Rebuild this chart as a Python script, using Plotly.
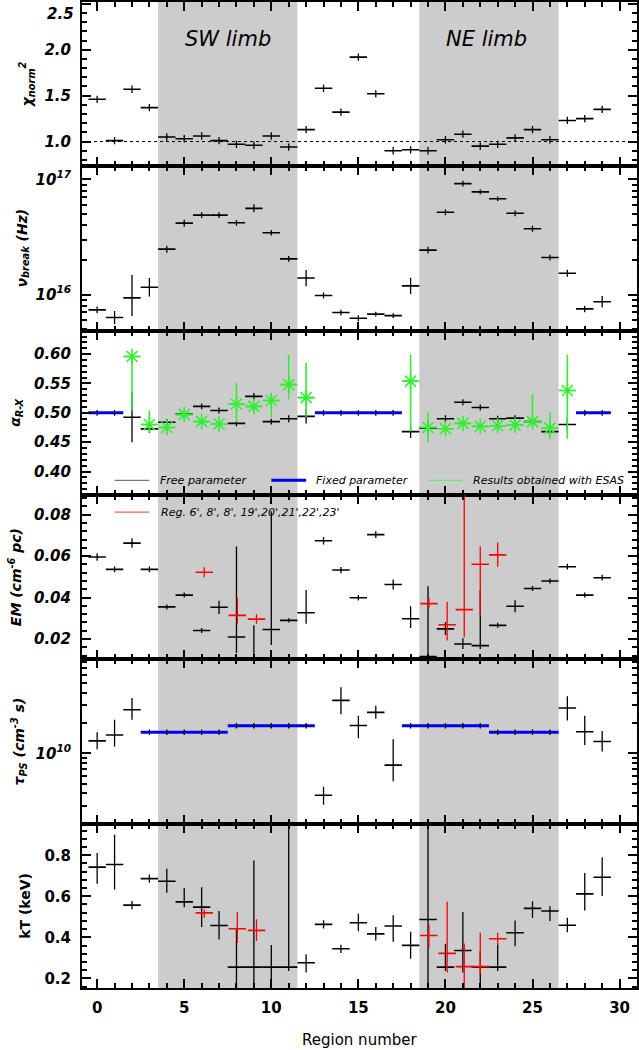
import plotly.graph_objects as go
from plotly.subplots import make_subplots

FONT = 'DejaVu Sans'

region = list(range(30))

# reduced chi^2
chi2 = [1.46, 1.01, 1.57, 1.37, 1.05, 1.03, 1.06, 1.01, 0.97, 0.96, 1.06, 0.94, 1.13, 1.58, 1.32,
        1.92, 1.52, 0.90, 0.91, 0.90, 1.02, 1.08, 0.95, 0.97, 1.04, 1.13, 1.02, 1.23, 1.25, 1.35]
chi2_err = 0.04
chi2_ticks = [1.0, 1.5, 2.0, 2.5]

# break frequency (Hz)
nu = [0.735e16, 0.631e16, 0.936e16, 1.156e16, 2.48e16, 4.17e16, 4.90e16, 4.90e16, 4.20e16, 5.61e16,
      3.44e16, 2.04e16, 1.39e16, 0.98e16, 0.697e16, 0.622e16, 0.675e16, 0.656e16, 1.19e16, 2.43e16,
      5.18e16, 9.2e16, 7.8e16, 6.8e16, 5.08e16, 3.73e16, 2.10e16, 1.53e16, 0.75e16, 0.865e16]
nu_lo = [0.686e16, 0.553e16, 0.652e16, 0.962e16, 2.31e16, 3.89e16, 4.62e16, 4.62e16, 3.96e16, 5.18e16,
         3.25e16, 1.93e16, 1.18e16, 0.925e16, 0.658e16, 0.587e16, 0.645e16, 0.626e16, 1.01e16, 2.27e16,
         4.89e16, 8.68e16, 7.45e16, 6.49e16, 4.80e16, 3.52e16, 1.98e16, 1.43e16, 0.70e16, 0.77e16]
nu_hi = [0.787e16, 0.720e16, 1.48e16, 1.39e16, 2.66e16, 4.47e16, 5.19e16, 5.19e16, 4.45e16, 6.08e16,
         3.64e16, 2.16e16, 1.63e16, 1.04e16, 0.738e16, 0.659e16, 0.707e16, 0.687e16, 1.40e16, 2.60e16,
         5.49e16, 9.75e16, 8.17e16, 7.12e16, 5.38e16, 3.95e16, 2.22e16, 1.64e16, 0.80e16, 0.97e16]

# radio-to-X-ray index
alpha_fixed_groups = [[0, 1], [13, 14, 15, 16, 17], [28, 29]]
alpha_fixed = [0.50, 0.50, 0.50]
alpha_x = [2, 3, 4, 5, 6, 7, 8, 9, 10, 11, 12, 18, 19, 20, 21, 22, 23, 24, 25, 26, 27]
alpha = [0.4926, 0.4727, 0.484, 0.498, 0.511, 0.504, 0.482, 0.528, 0.485, 0.490, 0.494,
         0.468, 0.474, 0.490, 0.518, 0.509, 0.490, 0.491, 0.485, 0.468, 0.480]
alpha_lo = [0.450, 0.466, 0.479, 0.493, 0.506, 0.499, 0.477, 0.522, 0.480, 0.484, 0.482,
            0.457, 0.463, 0.484, 0.513, 0.504, 0.485, 0.486, 0.480, 0.463, 0.469]
alpha_hi = [0.535, 0.479, 0.489, 0.503, 0.516, 0.509, 0.487, 0.534, 0.490, 0.496, 0.507,
            0.479, 0.485, 0.496, 0.523, 0.514, 0.495, 0.496, 0.490, 0.473, 0.491]
esas = [0.596, 0.480, 0.475, 0.497, 0.485, 0.481, 0.515, 0.511, 0.521, 0.548, 0.526,
        0.554, 0.475, 0.473, 0.482, 0.477, 0.478, 0.479, 0.485, 0.474, 0.538]
esas_lo = [0.504, 0.468, 0.465, 0.489, 0.482, 0.478, 0.484, 0.505, 0.493, 0.523, 0.493,
           0.468, 0.450, 0.469, 0.478, 0.473, 0.470, 0.471, 0.476, 0.455, 0.456]
esas_hi = [0.600, 0.504, 0.484, 0.505, 0.488, 0.484, 0.551, 0.517, 0.533, 0.599, 0.585,
           0.599, 0.500, 0.477, 0.486, 0.481, 0.486, 0.487, 0.532, 0.500, 0.599]

# emission measure
em = [0.0596, 0.0536, 0.0663, 0.0536, 0.0355, 0.0412, 0.0241, 0.0353, 0.0210, 0.0108,
      0.0246, 0.0290, 0.0327, 0.0674, 0.0533, 0.0399, 0.0704, 0.0463, 0.0298, 0.0116,
      0.0249, 0.0176, 0.0168, 0.0266, 0.0358, 0.0444, 0.0480, 0.0549, 0.0412, 0.0496]
em_lo = [0.0578, 0.0522, 0.0640, 0.0522, 0.0343, 0.0400, 0.0229, 0.0321, 0.0133, 0.0,
         0.0171, 0.0280, 0.0274, 0.0656, 0.0518, 0.0386, 0.0688, 0.0439, 0.0253, 0.0,
         0.0220, 0.0152, 0.0152, 0.0254, 0.0329, 0.0432, 0.0468, 0.0535, 0.0400, 0.0482]
em_hi = [0.0614, 0.0550, 0.0686, 0.0550, 0.0367, 0.0424, 0.0253, 0.0385, 0.0647, 0.0266,
         0.0817, 0.0300, 0.0436, 0.0692, 0.0548, 0.0412, 0.0720, 0.0487, 0.0358, 0.0455,
         0.0282, 0.0204, 0.0436, 0.0278, 0.0387, 0.0456, 0.0492, 0.0563, 0.0424, 0.0510]

red_x = [6.15, 8.05, 9.15, 19.05, 20.1, 21.08, 22.0, 23.0]
em_red = [0.0522, 0.0314, 0.0296, 0.0371, 0.0269, 0.0342, 0.0561, 0.0606]
em_red_lo = [0.0498, 0.0274, 0.0274, 0.0347, 0.0193, 0.0209, 0.0314, 0.0549]
em_red_hi = [0.0546, 0.0399, 0.0320, 0.0399, 0.0379, 0.1000, 0.0647, 0.0666]

# ionisation age
tau_fixed_groups = [[3, 4, 5, 6, 7], [8, 9, 10, 11, 12], [18, 19, 20, 21, 22], [23, 24, 25, 26]]
tau_fixed = [1.62e10, 1.88e10, 1.88e10, 1.62e10]
tau_x = [0, 1, 2, 13, 14, 15, 16, 17, 27, 28, 29]
tau = [1.33e10, 1.52e10, 2.71e10, 0.383e10, 3.36e10, 1.89e10, 2.55e10, 0.764e10, 2.82e10, 1.64e10, 1.31e10]
tau_lo = [1.10e10, 1.17e10, 2.15e10, 0.309e10, 2.45e10, 1.41e10, 2.20e10, 0.528e10, 2.12e10, 1.21e10, 1.04e10]
tau_hi = [1.62e10, 2.15e10, 3.55e10, 0.465e10, 4.53e10, 2.36e10, 2.97e10, 1.38e10, 3.69e10, 2.36e10, 1.67e10]

# temperature (keV)
kt = [0.742, 0.755, 0.557, 0.686, 0.673, 0.573, 0.547, 0.458, 0.255, 0.255, 0.255, 0.255, 0.276, 0.463, 0.344,
      0.471, 0.417, 0.455, 0.361, 0.487, 0.255, 0.336, 0.255, 0.255, 0.422, 0.541, 0.528, 0.459, 0.612, 0.693]
kt_lo = [0.661, 0.633, 0.537, 0.666, 0.617, 0.547, 0.450, 0.390, 0.0, 0.0, 0.0, 0.236, 0.228, 0.443, 0.324,
         0.430, 0.385, 0.378, 0.296, 0.0, 0.236, 0.228, 0.0, 0.236, 0.357, 0.495, 0.479, 0.425, 0.531, 0.601]
kt_hi = [0.811, 0.900, 0.577, 0.706, 0.734, 0.641, 0.644, 0.528, 0.447, 0.774, 0.362, 1.2, 0.317, 0.483, 0.364,
         0.515, 0.450, 0.508, 0.427, 1.2, 0.369, 0.524, 0.333, 0.365, 0.482, 0.576, 0.552, 0.495, 0.714, 0.790]
kt_red = [0.519, 0.442, 0.434, 0.409, 0.322, 0.257, 0.257, 0.393]
kt_red_lo = [0.495, 0.374, 0.382, 0.349, 0.228, 0.0, 0.223, 0.365]
kt_red_hi = [0.536, 0.524, 0.488, 0.463, 0.573, 0.370, 0.422, 0.422]

limbs = [(3.5, 11.5), (18.5, 26.5)]

BLUE = '#0000ee'
GREEN = '#33ee33'
RED = '#ff0000'

fig = make_subplots(rows=6, cols=1, shared_xaxes=True, vertical_spacing=0)


def crosses(row, x, y, lo=None, hi=None, err=None, color='black', xerr=0.5, vt=1.3):
    if err is not None:
        ey = dict(type='constant', value=err, width=0, thickness=vt, color=color)
    else:
        ey = dict(type='data', symmetric=False,
                  array=[h - v for h, v in zip(hi, y)],
                  arrayminus=[v - l for l, v in zip(lo, y)],
                  width=0, thickness=vt, color=color)
    ex = dict(type='constant', value=xerr, width=0, thickness=1.6, color=color)
    if xerr == 0:
        ex = None
    fig.add_trace(go.Scatter(x=x, y=y, mode='markers', marker=dict(size=1, color=color),
                             error_x=ex, error_y=ey, showlegend=False, hoverinfo='skip'),
                  row=row, col=1)


def fixed_line(row, groups, vals):
    xs, ys = [], []
    for g, v in zip(groups, vals):
        xs += [g[0] - 0.5, g[-1] + 0.5, None]
        ys += [v, v, None]
    fig.add_trace(go.Scatter(x=xs, y=ys, mode='lines', line=dict(color=BLUE, width=3),
                             showlegend=False, hoverinfo='skip'), row=row, col=1)


# panel 1
crosses(1, region, chi2, err=chi2_err)
# panel 2
crosses(2, region, nu, nu_lo, nu_hi)
# panel 3
fixed_line(3, alpha_fixed_groups, alpha_fixed)
fx = [x for g in alpha_fixed_groups for x in g]
fv = [v for g, v in zip(alpha_fixed_groups, alpha_fixed) for x in g]
crosses(3, fx, fv, err=0.005, xerr=0)
crosses(3, alpha_x, alpha, alpha_lo, alpha_hi)
fig.add_trace(go.Scatter(x=alpha_x, y=esas, mode='markers',
                         marker=dict(symbol='asterisk', size=13, color=GREEN, line=dict(color=GREEN, width=1.6)),
                         error_x=dict(type='constant', value=0.5, width=0, thickness=1.6, color=GREEN),
                         error_y=dict(type='data', symmetric=False,
                                      array=[h - v for h, v in zip(esas_hi, esas)],
                                      arrayminus=[v - l for l, v in zip(esas_lo, esas)],
                                      width=0, thickness=1.6, color=GREEN),
                         showlegend=False, hoverinfo='skip'), row=3, col=1)
# legend glyphs panel 3 / 4
for (x0, x1), col, w in [((1.0, 3.0), '#555555', 1), ((10.0, 12.0), BLUE, 3), ((19.0, 21.0), '#66ee66', 1.2)]:
    fig.add_trace(go.Scatter(x=[x0, x1], y=[0.385, 0.385], mode='lines', line=dict(color=col, width=w),
                             showlegend=False, hoverinfo='skip'), row=3, col=1)
fig.add_trace(go.Scatter(x=[1.0, 3.0], y=[0.0812, 0.0812], mode='lines', line=dict(color='#ee6655', width=1.3),
                         showlegend=False, hoverinfo='skip'), row=4, col=1)
# panel 4
crosses(4, region, em, em_lo, em_hi)
crosses(4, red_x, em_red, em_red_lo, em_red_hi, color=RED)
# panel 5
fixed_line(5, tau_fixed_groups, tau_fixed)
fx = [x for g in tau_fixed_groups for x in g]
fv = [v for g, v in zip(tau_fixed_groups, tau_fixed) for x in g]
crosses(5, fx, fv, [v * 0.94 for v in fv], [v * 1.065 for v in fv], xerr=0)
crosses(5, tau_x, tau, tau_lo, tau_hi)
# panel 6
crosses(6, region, kt, kt_lo, kt_hi)
crosses(6, red_x, kt_red, kt_red_lo, kt_red_hi, color=RED)

# shading
for r in range(1, 7):
    xr = 'x' if r == 1 else 'x%d' % r
    yr = 'y domain' if r == 1 else 'y%d domain' % r
    for a, b in limbs:
        fig.add_shape(type='rect', xref=xr, yref=yr, x0=a, x1=b, y0=0, y1=1,
                      fillcolor='#cccccc', line_width=0, layer='below')
fig.add_shape(type='line', xref='x domain', yref='y', x0=0, x1=1, y0=1.0, y1=1.0,
              line=dict(color='black', width=1, dash='dot'))

axis_common = dict(showline=True, linewidth=2, linecolor='black', mirror='allticks',
                   ticks='inside', ticklen=9, tickwidth=2, tickcolor='black',
                   showgrid=False, zeroline=False)
minor_common = dict(ticks='inside', ticklen=5, tickwidth=1.5, tickcolor='black', showgrid=False)
ital = dict(family=FONT, size=15, color='black', weight='bold', style='italic')
upright = dict(family=FONT, size=15, color='black', weight='bold')
ttl_ital = dict(family=FONT, size=14, color='black', weight='bold', style='italic')
ttl_up = dict(family=FONT, size=14, color='black', weight='bold')

for r in range(1, 7):
    fig.update_xaxes(range=[-0.87, 31.0], tick0=0, dtick=5, minor=dict(dtick=1, tick0=0, **minor_common),
                     tickfont=upright, ticklabelstandoff=5, row=r, col=1, **axis_common)

# top label of panel 1 sits at the clipped edge, so it is placed as text below
fig.update_yaxes(range=[0.73, 2.52], tickmode='array', tickvals=chi2_ticks,
                 ticktext=['%.1f' % t for t in chi2_ticks[:-1]] + [''],
                 minor=dict(dtick=0.1, tick0=0, **minor_common), tickfont=ital, row=1, col=1, **axis_common)
fig.add_annotation(text='%.1f' % chi2_ticks[-1], xref='paper', yref='paper', x=-6 / 555.0, y=1 - 12 / 988.0,
                   xanchor='right', yanchor='middle', showarrow=False, font=ital)
nu_minor = [k * 1e15 for k in range(5, 10)] + [k * 1e16 for k in range(2, 10)]
fig.update_yaxes(type='log', range=[15.686, 17.114], tickmode='array', tickvals=[1e16, 1e17],
                 ticktext=['10<sup>16</sup>', '10<sup>17</sup>'],
                 minor=dict(tickmode='array', tickvals=nu_minor, **minor_common),
                 tickfont=ital, row=2, col=1, **axis_common)
fig.update_yaxes(range=[0.36, 0.64], tick0=0, dtick=0.05, tickformat='.2f',
                 minor=dict(dtick=0.01, tick0=0, **minor_common), tickfont=ital, row=3, col=1, **axis_common)
fig.update_yaxes(range=[0.0102, 0.0895], tick0=0, dtick=0.02, tickformat='.2f',
                 minor=dict(dtick=0.004, tick0=0, **minor_common), tickfont=ital, row=4, col=1, **axis_common)
tau_minor = [k * 1e9 for k in range(2, 10)] + [k * 1e10 for k in range(2, 9)]
fig.update_yaxes(type='log', range=[9.301, 10.934], tickmode='array', tickvals=[1e10],
                 ticktext=['10<sup>10</sup>'],
                 minor=dict(tickmode='array', tickvals=tau_minor, **minor_common),
                 tickfont=ital, row=5, col=1, **axis_common)
fig.update_yaxes(range=[0.153, 0.954], tick0=0, dtick=0.2, tickformat='.1f',
                 minor=dict(dtick=0.04, tick0=0, **minor_common), tickfont=upright, row=6, col=1, **axis_common)
for r in range(1, 7):
    fig.update_yaxes(ticklabelstandoff=6, row=r, col=1)

# axis titles
W = 555.0
titles = [
    ('χ<sub>norm</sub><sup>2</sup>', 27, ttl_ital),
    ('ν<sub>break</sub> (Hz)', 22, ttl_ital),
    ('α<sub>R-X</sub>', 16, ttl_ital),
    ('EM (cm<sup>-6</sup> pc)', 15, ttl_ital),
    ('τ<sub>PS</sub> (cm<sup>-3</sup> s)', 19, ttl_ital),
    ('kT (keV)', 25, ttl_up),
]
for r, (txt, px, fnt) in enumerate(titles, start=1):
    yr = 'y domain' if r == 1 else 'y%d domain' % r
    fig.add_annotation(text=txt, xref='paper', yref=yr, x=(px - 82) / W, y=0.5,
                       xanchor='center', yanchor='middle', textangle=-90, showarrow=False,
                       font=fnt)

fig.add_annotation(text='Region number', xref='paper', yref='paper', x=0.5, y=-52 / 988.0,
                   xanchor='center', yanchor='middle', showarrow=False,
                   font=dict(family=FONT, size=15, color='black'))

limb_font = dict(family=FONT, size=21, color='black', style='italic')
fig.add_annotation(text='SW limb', xref='x', yref='y', x=7.5, y=2.12, showarrow=False, font=limb_font)
fig.add_annotation(text='NE limb', xref='x', yref='y', x=22.35, y=2.12, showarrow=False, font=limb_font)

leg_font = dict(family=FONT, size=11, color='black', style='italic')
for x, txt in [(3.5, 'Free parameter'), (12.45, 'Fixed parameter'), (21.45, 'Results obtained with ESAS')]:
    fig.add_annotation(text=txt, xref='x3', yref='y3', x=x, y=0.385, xanchor='left', yanchor='middle',
                       showarrow=False, font=leg_font)
fig.add_annotation(text="Reg. 6', 8', 8', 19',20',21',22',23'", xref='x4', yref='y4', x=3.55, y=0.0812,
                   xanchor='left', yanchor='middle', showarrow=False, font=leg_font)

fig.update_layout(width=639, height=1050, margin=dict(l=82, r=2, t=0, b=62),
                  plot_bgcolor='white', paper_bgcolor='white', showlegend=False)

fig.write_html("out.html", config={'displayModeBar': False},
               post_script="document.body.style.margin='0';document.body.style.overflow='hidden';")
